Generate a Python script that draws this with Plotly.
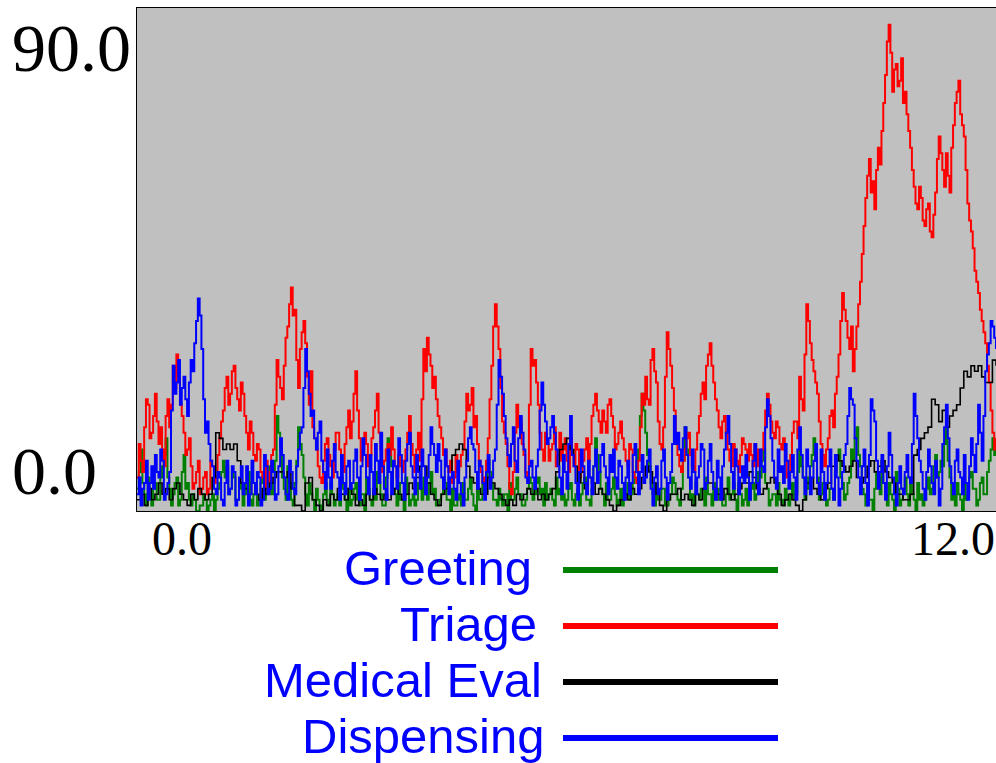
import numpy as np
import plotly.graph_objects as go

# ---------------- data ----------------
series_names = ["Greeting", "Triage", "Medical Eval", "Dispensing"]
series_colors = ["#008000", "#FF0000", "#000000", "#0000FF"]

x_min, x_max = 0.0, 12.0
y_min, y_max = 0.0, 90.0
x_tick_labels = ["0.0", "12.0"]
y_tick_labels = ["0.0", "90.0"]

greeting = [
    4, 7, 11, 5, 3, 1, 6, 3, 1, 4, 5, 2, 2, 6, 8, 10, 13, 6, 4, 1,
    3, 5, 6, 1, 2, 7, 10, 4, 5, 2, 1, 3, 2, 0, 0, 1, 1, 3, 2, 0,
    1, 2, 3, 0, 2, 4, 5, 7, 9, 6, 8, 3, 4, 7, 6, 2, 2, 4, 5, 1,
    3, 5, 7, 2, 1, 3, 4, 1, 2, 5, 6, 2, 3, 6, 8, 3, 5, 9, 17, 14,
    11, 6, 4, 2, 8, 5, 2, 1, 5, 9, 15, 12, 10, 6, 3, 1, 5, 3, 2, 0,
    4, 2, 1, 0, 3, 5, 2, 1, 5, 3, 1, 2, 3, 1, 6, 4, 2, 0, 4, 1,
    2, 4, 5, 2, 1, 3, 3, 0, 6, 4, 2, 1, 4, 2, 7, 5, 3, 1, 1, 6,
    13, 10, 8, 4, 3, 1, 5, 2, 2, 0, 6, 3, 1, 2, 3, 1, 2, 5, 4, 2,
    6, 3, 2, 5, 7, 3, 4, 1, 1, 2, 3, 6, 5, 2, 2, 0, 4, 1, 1, 2,
    3, 1, 5, 2, 2, 4, 6, 3, 1, 0, 4, 2, 2, 5, 3, 6, 9, 7, 5, 2,
    2, 1, 4, 2, 1, 3, 3, 0, 5, 2, 2, 4, 6, 3, 3, 1, 1, 2, 4, 6,
    5, 2, 3, 5, 6, 3, 4, 1, 5, 2, 3, 4, 2, 1, 6, 3, 4, 2, 3, 1,
    2, 4, 5, 2, 1, 3, 4, 1, 3, 5, 6, 2, 2, 1, 4, 8, 13, 10, 7, 4,
    3, 1, 5, 2, 2, 4, 6, 3, 1, 2, 4, 1, 2, 3, 5, 2, 3, 5, 7, 9,
    11, 17, 21, 18, 14, 10, 8, 5, 3, 1, 5, 2, 2, 4, 4, 1, 1, 2, 3, 6,
    5, 3, 2, 1, 4, 9, 15, 11, 6, 2, 3, 1, 5, 3, 2, 4, 4, 1, 6, 3,
    3, 1, 5, 2, 2, 4, 4, 1, 1, 3, 6, 2, 3, 5, 2, 0, 5, 3, 1, 2,
    4, 1, 2, 4, 5, 2, 3, 7, 6, 9, 11, 5, 4, 1, 2, 3, 3, 1, 5, 2,
    2, 1, 4, 2, 1, 3, 5, 2, 3, 7, 11, 8, 6, 2, 4, 6, 8, 10, 13, 9,
    6, 2, 3, 5, 5, 1, 2, 4, 4, 2, 7, 9, 11, 6, 5, 2, 3, 5, 6, 11,
    9, 13, 15, 10, 8, 4, 3, 1, 5, 2, 2, 0, 4, 7, 6, 3, 9, 5, 3, 1,
    5, 3, 2, 0, 7, 4, 1, 2, 4, 6, 3, 1, 6, 3, 2, 0, 5, 2, 3, 1,
    2, 4, 6, 3, 4, 8, 10, 6, 7, 9, 8, 12, 15, 9, 6, 2, 3, 1, 5, 3,
    2, 0, 5, 2, 3, 6, 7, 4, 4, 1, 2, 5, 6, 3, 3, 7, 9, 11, 13, 10, 12,
]

triage = [
    6, 12, 9, 7, 15, 20, 19, 13, 14, 17, 21, 16, 12, 15, 11, 8, 17, 20, 15, 19,
    26, 22, 28, 24, 19, 17, 14, 10, 11, 13, 8, 4, 5, 7, 9, 3, 4, 6, 7, 3,
    4, 9, 8, 5, 6, 10, 13, 16, 18, 22, 24, 19, 21, 25, 26, 22, 20, 18, 23, 21,
    17, 14, 11, 16, 14, 10, 9, 12, 11, 7, 6, 4, 9, 7, 5, 10, 11, 19, 27, 24,
    22, 20, 26, 31, 33, 37, 40, 35, 36, 27, 22, 29, 32, 34, 30, 24, 19, 25, 15, 13,
    11, 8, 6, 5, 9, 12, 13, 10, 8, 6, 11, 14, 14, 11, 9, 7, 12, 15, 18, 13,
    16, 21, 25, 18, 13, 9, 11, 14, 12, 8, 10, 13, 15, 18, 21, 14, 11, 7, 9, 11,
    12, 10, 15, 11, 8, 6, 10, 8, 7, 9, 11, 14, 17, 12, 10, 7, 11, 14, 9, 20,
    29, 25, 31, 28, 26, 22, 24, 20, 17, 15, 13, 10, 11, 8, 7, 9, 5, 6, 10, 7,
    8, 10, 11, 16, 21, 18, 19, 22, 15, 17, 12, 9, 7, 5, 6, 9, 13, 20, 26, 33,
    37, 33, 29, 22, 16, 14, 12, 8, 4, 3, 7, 14, 19, 15, 16, 12, 10, 7, 6, 19,
    29, 26, 27, 23, 19, 14, 11, 9, 14, 12, 9, 11, 12, 15, 8, 10, 14, 9, 11, 13,
    9, 7, 13, 10, 8, 12, 11, 6, 7, 9, 11, 13, 9, 12, 17, 19, 21, 18, 16, 14,
    18, 16, 14, 19, 20, 17, 15, 11, 12, 14, 16, 13, 11, 9, 8, 12, 11, 7, 6, 5,
    9, 15, 21, 19, 24, 20, 19, 27, 29, 25, 23, 16, 12, 11, 15, 24, 32, 29, 26, 22,
    18, 13, 10, 8, 7, 9, 11, 13, 14, 10, 8, 7, 11, 14, 17, 21, 23, 20, 26, 28,
    30, 26, 23, 20, 18, 15, 13, 16, 17, 14, 11, 9, 8, 12, 11, 9, 7, 10, 13, 12,
    11, 9, 12, 10, 8, 12, 11, 8, 9, 11, 14, 18, 21, 19, 16, 14, 13, 16, 15, 12,
    11, 13, 9, 6, 7, 10, 14, 16, 16, 13, 24, 20, 18, 28, 37, 34, 30, 27, 25, 23,
    21, 16, 12, 10, 8, 11, 13, 17, 18, 15, 21, 24, 28, 34, 39, 36, 34, 31, 29, 33,
    25, 29, 33, 37, 41, 46, 51, 56, 60, 63, 57, 59, 54, 61, 65, 62, 68, 73, 78, 84,
    87, 82, 75, 79, 80, 76, 77, 81, 73, 75, 71, 68, 65, 61, 58, 55, 54, 58, 56, 52,
    51, 54, 55, 50, 49, 53, 57, 63, 67, 64, 61, 58, 64, 60, 57, 65, 69, 73, 75, 77,
    71, 69, 67, 61, 55, 52, 50, 47, 43, 41, 39, 36, 34, 32, 30, 26, 23, 18, 14, 11, 13,
]

medical_eval = [
    2, 3, 1, 4, 2, 3, 5, 3, 4, 2,
    4, 5, 3, 2, 1, 3, 2, 4, 3, 2,
    3, 6, 14, 13, 11, 12, 11, 12, 9, 5,
    4, 3, 5, 3, 2, 4, 3, 5, 6, 7,
    7, 6, 7, 4, 1, 1, 0, 5, 6, 2,
    1, 0, 2, 1, 3, 2, 4, 3, 2, 4,
    3, 1, 2, 1, 3, 2, 4, 3, 2, 3,
    2, 3, 4, 3, 2, 3, 5, 4, 6, 8,
    8, 5, 3, 2, 1, 3, 4, 6, 10, 11,
    12, 11, 8, 6, 5, 4, 3, 3, 6, 5,
    4, 3, 2, 1, 2, 1, 3, 2, 3, 4,
    3, 4, 2, 3, 2, 3, 4, 7, 11, 12,
    13, 11, 8, 5, 7, 4, 6, 5, 3, 4,
    3, 2, 1, 0, 1, 2, 3, 2, 4, 3,
    4, 6, 8, 7, 5, 3, 1, 0, 2, 3,
    3, 4, 2, 3, 2, 1, 3, 2, 4, 5,
    5, 4, 3, 2, 4, 3, 2, 3, 4, 5,
    5, 7, 6, 4, 3, 4, 5, 6, 5, 3,
    1, 2, 3, 2, 1, 0, 2, 5, 6, 4,
    3, 2, 4, 5, 8, 10, 9, 8, 7, 8,
    9, 6, 5, 6, 8, 9, 7, 8, 9, 7,
    6, 5, 3, 3, 2, 2, 3, 10, 11, 13,
    14, 15, 20, 19, 16, 18, 15, 17, 18, 19,
    22, 25, 24, 26, 25, 26, 24, 23, 23, 27, 26,
]

dispensing = [
    3, 6, 1, 4, 5, 9, 2, 5, 8, 4, 10, 7, 6, 11, 9, 2, 3, 5, 7, 18,
    26, 21, 23, 27, 19, 22, 24, 20, 17, 23, 27, 25, 30, 34, 38, 35, 29, 20, 14, 16,
    12, 9, 8, 4, 3, 7, 6, 2, 1, 5, 9, 3, 4, 8, 7, 1, 2, 6, 8, 3,
    5, 8, 1, 3, 9, 5, 3, 7, 6, 1, 2, 10, 8, 3, 4, 9, 7, 2, 3, 8,
    13, 10, 6, 3, 2, 9, 7, 4, 3, 8, 11, 14, 15, 22, 29, 25, 21, 17, 18, 13,
    11, 14, 16, 9, 7, 4, 11, 6, 4, 9, 12, 7, 6, 2, 10, 5, 3, 8, 9, 4,
    5, 9, 11, 6, 2, 8, 13, 10, 6, 3, 10, 7, 3, 12, 9, 5, 14, 8, 4, 2,
    11, 7, 3, 9, 8, 4, 13, 10, 5, 2, 9, 12, 14, 8, 6, 3, 10, 7, 4, 11,
    8, 3, 6, 10, 15, 12, 10, 7, 12, 9, 6, 4, 11, 8, 3, 6, 7, 4, 2, 9,
    5, 3, 1, 6, 9, 13, 15, 12, 11, 7, 4, 9, 8, 5, 2, 7, 10, 4, 6, 9,
    11, 19, 27, 24, 21, 17, 13, 10, 8, 12, 15, 9, 7, 13, 17, 14, 11, 6, 5, 8,
    9, 6, 4, 8, 11, 18, 23, 19, 16, 12, 13, 15, 17, 14, 11, 8, 6, 3, 10, 7,
    4, 12, 17, 10, 8, 5, 2, 7, 11, 8, 5, 3, 9, 6, 3, 8, 11, 5, 7, 10,
    12, 8, 6, 3, 10, 7, 11, 6, 4, 9, 8, 5, 2, 6, 9, 3, 5, 10, 12, 7,
    3, 7, 10, 5, 6, 9, 11, 4, 1, 6, 8, 3, 4, 9, 11, 6, 2, 5, 7, 12,
    17, 12, 14, 11, 9, 13, 15, 10, 6, 4, 11, 7, 3, 6, 8, 12, 11, 4, 5, 9,
    12, 7, 4, 2, 9, 6, 2, 8, 11, 14, 17, 12, 7, 4, 11, 8, 3, 6, 8, 5,
    10, 6, 2, 5, 9, 12, 5, 3, 11, 8, 7, 15, 20, 17, 13, 9, 6, 4, 11, 7,
    8, 5, 12, 9, 4, 7, 10, 6, 2, 11, 15, 10, 6, 3, 11, 8, 3, 6, 9, 12,
    5, 3, 11, 7, 2, 5, 8, 11, 4, 2, 10, 6, 1, 4, 7, 10, 12, 17, 22, 20,
    19, 13, 9, 6, 3, 8, 11, 5, 1, 10, 20, 18, 16, 9, 4, 7, 10, 5, 2, 8,
    14, 10, 6, 3, 1, 5, 8, 4, 3, 7, 10, 6, 5, 12, 21, 17, 13, 9, 7, 4,
    2, 7, 11, 8, 5, 3, 9, 6, 1, 4, 12, 15, 19, 13, 8, 5, 3, 9, 11, 7,
    6, 3, 10, 5, 2, 8, 13, 10, 7, 12, 19, 14, 9, 17, 25, 28, 30, 34, 33, 31, 29,
]

series_values = [greeting, triage, medical_eval, dispensing]
series_widths = [2, 2, 1.6, 2]

# ---------------- layout geometry (pixels) ----------------
W, H = 996, 763
L, R, T, B = 137, 0, 8, 252
plot_w = W - L - R
plot_h = H - T - B


def px_x(p):
    return (p - L) / plot_w


def px_y(p):
    return (H - B - p) / plot_h


fig = go.Figure()

for name, color, vals, lw in zip(series_names, series_colors, series_values, series_widths):
    t = np.linspace(x_min, x_max, len(vals))
    fig.add_trace(go.Scatter(
        x=t, y=vals, mode="lines", name=name,
        line=dict(color=color, width=lw, shape="hv"),
        showlegend=False, hoverinfo="skip",
    ))

annotations = []
# y tick labels: min at bottom, max at top, left aligned
annotations.append(dict(text=y_tick_labels[1], xref="paper", yref="y", x=px_x(10), y=y_max,
                        xanchor="left", yanchor="top", showarrow=False,
                        font=dict(family="Liberation Serif", size=68, color="black")))
annotations.append(dict(text=y_tick_labels[0], xref="paper", yref="y", x=px_x(10), y=y_min,
                        xanchor="left", yanchor="bottom", showarrow=False,
                        font=dict(family="Liberation Serif", size=68, color="black")))
# x tick labels
annotations.append(dict(text=x_tick_labels[0], xref="x", yref="paper", x=x_min, y=px_y(510),
                        xanchor="left", yanchor="top", xshift=13, showarrow=False,
                        font=dict(family="Liberation Serif", size=48, color="black")))
annotations.append(dict(text=x_tick_labels[1], xref="x", yref="paper", x=x_max, y=px_y(510),
                        xanchor="right", yanchor="top", xshift=1, showarrow=False,
                        font=dict(family="Liberation Serif", size=48, color="black")))

legend_rows = [570, 626, 682, 738]
legend_text_right = [534, 539, 544, 546]
shapes = []
for name, color, row, xr in zip(series_names, series_colors, legend_rows, legend_text_right):
    annotations.append(dict(text=name, xref="paper", yref="paper", x=px_x(xr), y=px_y(row - 2),
                            xanchor="right", yanchor="middle", showarrow=False,
                            font=dict(family="Liberation Sans", size=49, color="#0000FF")))
    shapes.append(dict(type="line", xref="paper", yref="paper",
                       x0=px_x(563), x1=px_x(778), y0=px_y(row), y1=px_y(row),
                       line=dict(color=color, width=6)))

fig.update_layout(
    width=W, height=H,
    margin=dict(l=L, r=R, t=T, b=B, pad=0),
    paper_bgcolor="white",
    plot_bgcolor="#C0C0C0",
    showlegend=False,
    annotations=annotations,
    shapes=shapes,
    xaxis=dict(range=[x_min, x_max], showticklabels=False, showgrid=False, zeroline=False,
               ticks="", showline=True, mirror=True, linecolor="black", linewidth=1),
    yaxis=dict(range=[y_min, y_max], showticklabels=False, showgrid=False, zeroline=False,
               ticks="", showline=True, mirror=True, linecolor="black", linewidth=1),
)

fig.write_html("out.html")
